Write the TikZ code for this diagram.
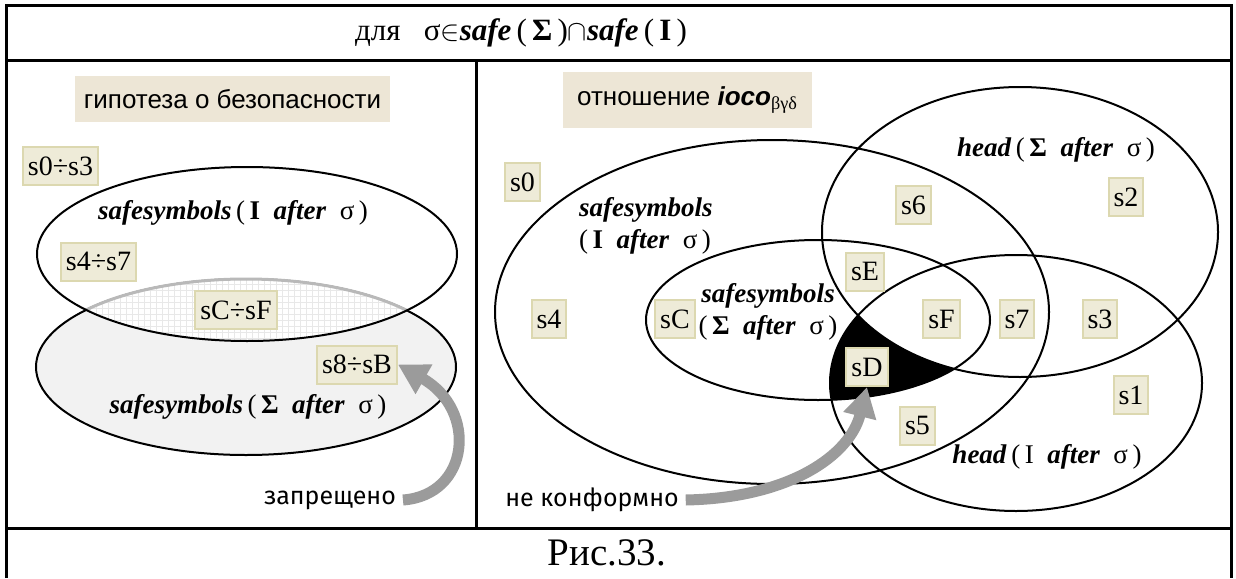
\documentclass[tikz,border=0pt]{standalone}
\usepackage{fontspec}
\setmainfont{Liberation Serif}
\setsansfont{Liberation Sans}
\newfontfamily\handfont{Fira Sans}
\usetikzlibrary{arrows.meta,patterns}

\definecolor{topicfill}{RGB}{237,230,214}
\definecolor{statefill}{RGB}{238,235,216}
\definecolor{statedraw}{RGB}{220,216,176}
\definecolor{pointergray}{RGB}{155,155,155}

\newcommand{\bitext}[1]{\textbf{\textit{#1}}}

\tikzset{
  venn/.style={line width=1pt},
  setlabel/.style={font=\fontsize{13.5}{16}\selectfont},
  statebox/.style={draw=statedraw, fill=statefill, line width=1pt, inner xsep=2.5pt, inner ysep=0pt, minimum height=19pt, font=\fontsize{14}{16}\selectfont},
  topicbox/.style={fill=topicfill, inner sep=0pt, font=\sffamily\fontsize{13}{15}\selectfont},
  note/.style={font=\handfont\fontsize{12.5}{15}\selectfont},
  pointer/.style={pointergray, line width=5.5pt, -{Triangle[length=15pt,width=16pt]}}
}

\begin{document}
\begin{tikzpicture}[x=0.5pt, y=-0.5pt]
\useasboundingbox (0,0) rectangle (1236,578);

%Frame Drawing

\draw [line width=1.5pt] (6,578) -- (6,5) -- (1231,5) -- (1231,578);
\draw [line width=1.5pt] (6,60) -- (1231,60);
\draw [line width=1.5pt] (6,528) -- (1231,528);
\draw [line width=1.5pt] (476,60) -- (476,528);

\node (title) [font=\fontsize{15.5}{18}\selectfont] at (521,33)
  {для\enspace\ σ$\in$\bitext{safe}\,(\,\textbf{Σ}\,)$\cap$\bitext{safe}\,(\,\textbf{I}\,)};
\node (caption) [font=\fontsize{19.5}{22}\selectfont] at (607,553) {Рис.33.};

%Left Venn Drawing

\fill [gray!10] (246,367) ellipse [x radius=210, y radius=88];
\draw [venn] (246,367) ellipse [x radius=210, y radius=88];
\begin{scope}
  \clip (247,254) ellipse [x radius=210, y radius=87];
  \fill [white] (246,367) ellipse [x radius=210, y radius=88];
  \fill [pattern=grid, pattern color=gray!18] (246,367) ellipse [x radius=210, y radius=88];
  \draw [gray!55, line width=1.5pt] (246,367) ellipse [x radius=210, y radius=88];
\end{scope}
\draw [venn] (247,254) ellipse [x radius=210, y radius=87];

\node (hypo) [topicbox, minimum width=157.5pt, minimum height=23pt] at (232.5,99) {гипотеза о безопасности};

\node (iset) [setlabel] at (233,213) {\bitext{safesymbols}\,(\,\textbf{I}\ \ \bitext{after}\ \ σ\,)};
\node (sset) [setlabel] at (248,407) {\bitext{safesymbols}\,(\,\textbf{Σ}\ \ \bitext{after}\ \ σ\,)};

\node (s0s3) [statebox] at (60.5,166) {s0÷s3};
\node (s4s7) [statebox] at (98.5,261.5) {s4÷s7};
\node (sCsF) [statebox] at (236,310) {sC÷sF};
\node (s8sB) [statebox] at (357,364.5) {s8÷sB};

\node (forbid) [note] at (330,500) {запрещено};
\draw [pointer] (forbid.east) .. controls (470,495) and (478,410) .. (s8sB.east);

%Right Venn Drawing

\begin{scope}
  \clip (818,320) ellipse [x radius=172, y radius=80];
  \clip (1016,383) ellipse [x radius=186, y radius=128];
  \fill [black, even odd rule] (600,150) rectangle (1236,528) (1020,232) ellipse [x radius=198, y radius=145];
\end{scope}
\draw [venn] (772,312) ellipse [x radius=277, y radius=172];
\draw [venn] (818,320) ellipse [x radius=172, y radius=80];
\draw [venn] (1020,232) ellipse [x radius=198, y radius=145];
\draw [venn] (1016,383) ellipse [x radius=186, y radius=128];

\node (ioco) [topicbox, minimum width=124.5pt, minimum height=28pt] at (687.5,100)
  {отношение \textbf{\textit{ioco}}\textsubscript{\rmfamily βγδ}};

\node (iset2) [setlabel, align=left, anchor=west] at (572,226)
  {\bitext{safesymbols}\\(\,\textbf{I}\ \ \bitext{after}\ \ σ\,)};
\node (sset2) [setlabel, align=center] at (768,312)
  {\bitext{safesymbols}\\(\,\textbf{Σ}\ \ \bitext{after}\ \ σ\,)};
\node (shead) [setlabel] at (1056,150) {\bitext{head}\,(\,\textbf{Σ}\ \ \bitext{after}\ \ σ\,)};
\node (ihead) [setlabel] at (1047,457) {\bitext{head}\,(\,I\ \ \bitext{after}\ \ σ\,)};

\node (s0) [statebox] at (522.5,182) {s0};
\node (s4) [statebox] at (549,319) {s4};
\node (sC) [statebox] at (675,319) {sC};
\node (s6) [statebox] at (913.5,205) {s6};
\node (s2) [statebox] at (1126,197) {s2};
\node (sE) [statebox] at (865,271.5) {sE};
\node (sF) [statebox] at (941.5,319) {sF};
\node (s7) [statebox] at (1017,319) {s7};
\node (s3) [statebox] at (1100,319) {s3};
\node (sD) [statebox] at (867,367) {sD};
\node (s1) [statebox] at (1131,395) {s1};
\node (s5) [statebox] at (917.5,425.5) {s5};

\node (nonconf) [note] at (592,500) {не конформно};
\draw [pointer] (nonconf.east) .. controls (790,498) and (850,455) .. (sD.south);

\end{tikzpicture}
\end{document}
